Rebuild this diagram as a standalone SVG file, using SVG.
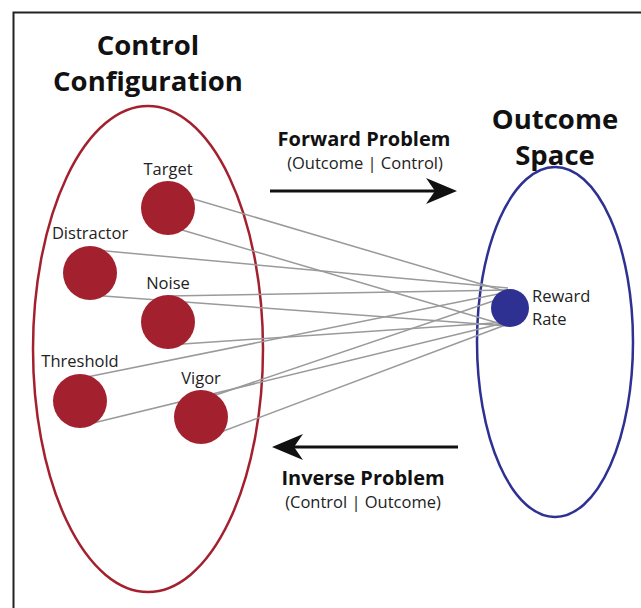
<svg xmlns="http://www.w3.org/2000/svg" width="641" height="608" viewBox="0 0 641 608">
<style>
.title{font-family:"Open Sans","Liberation Sans",sans-serif;font-weight:700;font-size:27.5px;fill:#111;text-anchor:middle}
.sub{font-family:"Open Sans","Liberation Sans",sans-serif;font-weight:700;font-size:20px;fill:#111;text-anchor:middle}
.par{font-family:"Open Sans","Liberation Sans",sans-serif;font-size:16.5px;fill:#222;text-anchor:middle}
.lbl{font-family:"Open Sans","Liberation Sans",sans-serif;font-size:16.5px;fill:#222;text-anchor:middle}
.lbls{font-family:"Open Sans","Liberation Sans",sans-serif;font-size:16.5px;fill:#222;text-anchor:start}
.dot{fill:#a3212f}
.link{stroke:#9a9a9a;stroke-width:1.5;fill:none}
.arrow{stroke:#111;stroke-width:3;fill:none}
.head{fill:#111}
</style>
<rect width="641" height="608" fill="#fff"/>
<path d="M13.5 608 V12.5 H641" fill="none" stroke="#222" stroke-width="2"/>

<g id="control-configuration">
<ellipse cx="148" cy="349" rx="115" ry="243" fill="none" stroke="#a3212f" stroke-width="2.5"/>
<text class="title" x="148" y="55">Control</text>
<text class="title" x="148" y="91">Configuration</text>
</g>

<g id="outcome-space">
<ellipse cx="555" cy="342" rx="78" ry="175" fill="none" stroke="#2e3192" stroke-width="2.5"/>
<text class="title" x="555" y="129">Outcome</text>
<text class="title" x="555" y="165">Space</text>
</g>

<g id="connectors">
<line class="link" x1="180" y1="195" x2="508" y2="292"/>
<line class="link" x1="165" y1="225" x2="508" y2="326"/>
<line class="link" x1="95" y1="250" x2="508" y2="288"/>
<line class="link" x1="90" y1="295" x2="508" y2="326"/>
<line class="link" x1="168" y1="296" x2="508" y2="290"/>
<line class="link" x1="168" y1="345" x2="508" y2="322"/>
<line class="link" x1="82" y1="378" x2="508" y2="292"/>
<line class="link" x1="85" y1="425" x2="508" y2="322"/>
<line class="link" x1="201" y1="400" x2="508" y2="296"/>
<line class="link" x1="205" y1="438" x2="508" y2="324"/>
</g>

<g id="target">
<circle class="dot" cx="168" cy="208" r="27"/>
<text class="lbl" x="168" y="175">Target</text>
</g>
<g id="distractor">
<circle class="dot" cx="90" cy="273" r="27"/>
<text class="lbl" x="90" y="239">Distractor</text>
</g>
<g id="noise">
<circle class="dot" cx="168" cy="322" r="27"/>
<text class="lbl" x="168" y="289">Noise</text>
</g>
<g id="threshold">
<circle class="dot" cx="80" cy="401" r="27"/>
<text class="lbl" x="80" y="367">Threshold</text>
</g>
<g id="vigor">
<circle class="dot" cx="201" cy="417" r="27"/>
<text class="lbl" x="201" y="384">Vigor</text>
</g>

<g id="reward-rate">
<circle cx="510" cy="308" r="19" fill="#2e3192"/>
<text class="lbls" x="532" y="302">Reward</text>
<text class="lbls" x="532" y="325">Rate</text>
</g>

<g id="forward-problem">
<text class="sub" x="364" y="146">Forward Problem</text>
<text class="par" x="365" y="169">(Outcome | Control)</text>
<line class="arrow" x1="270" y1="191" x2="440" y2="191"/>
<path class="head" d="M457 191 L426 178 L435 191 L426 204 Z"/>
</g>

<g id="inverse-problem">
<line class="arrow" x1="289" y1="447" x2="458" y2="447"/>
<path class="head" d="M272 447 L303 434 L294 447 L303 460 Z"/>
<text class="sub" x="363" y="485">Inverse Problem</text>
<text class="par" x="363" y="508">(Control | Outcome)</text>
</g>
</svg>
